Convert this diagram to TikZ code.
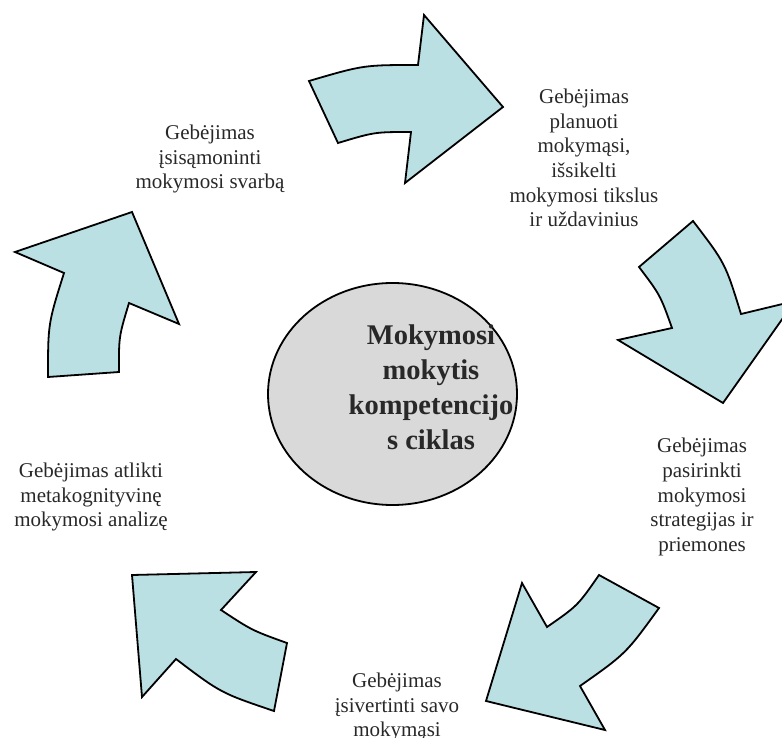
\documentclass[tikz,border=0pt]{standalone}
\usepackage{fontspec}
\setmainfont{Liberation Serif}
\usetikzlibrary{shapes.geometric}
\definecolor{arrowfill}{RGB}{187,224,227}
\definecolor{ovalfill}{RGB}{217,217,217}
\definecolor{labeltext}{RGB}{40,40,40}
\begin{document}
\begin{tikzpicture}[x=1pt,y=-1pt,
  cyclearrow/.style={draw=black, fill=arrowfill, line width=1.8pt, line join=miter},
  hubshape/.style={ellipse, draw=black, fill=ovalfill, line width=1.8pt, minimum width=249pt, minimum height=222pt, inner sep=0pt},
  hubtext/.style={align=center, text=labeltext, font=\fontsize{28.5}{35}\selectfont\bfseries, inner sep=0pt},
  steplabel/.style={align=center, text=labeltext, font=\fontsize{21}{24.6}\selectfont, inner sep=0pt}]
\useasboundingbox (0,0) rectangle (782,738);

% top arrow
\draw[cyclearrow] (309,81) .. controls (363.5,65) .. (418,65) -- (424,15) -- (503,107) -- (405,183) -- (411,132) .. controls (374.5,132) .. (338,143) -- cycle;
% right arrow
\draw[cyclearrow] (693,221) -- (639,267) .. controls (660.2,295) .. (672,328) -- (618,340) -- (723,403) -- (795,301) -- (741,314) .. controls (725.3,263.2) .. (693,221) -- cycle;
% bottom-right arrow
\draw[cyclearrow] (599,575) -- (659,608) .. controls (626,653.6) .. (580,686) -- (605,730) -- (486,701) -- (522,583) -- (547,627) .. controls (577.7,605.7) .. (599,575) -- cycle;
% bottom-left arrow
\draw[cyclearrow] (132,575) -- (256,572) -- (221,610) .. controls (252,630.4) .. (287,643) -- (274,711) .. controls (220.8,693) .. (176,659) -- (142,697) -- cycle;
% left arrow
\draw[cyclearrow] (15,252) -- (132,212) -- (179,324) -- (129,303) .. controls (118.8,336.7) .. (119,372) -- (48,377) .. controls (48,323.8) .. (64,273) -- cycle;

\node[hubshape] (hub) at (392.5,394) {};
\node[hubtext] (hubtitle) at (431,387) {Mokymosi\\mokytis\\kompetencijo\\s ciklas};

\node[steplabel] (plan) at (584,158) {Gebėjimas\\planuoti\\mokymąsi,\\išsikelti\\mokymosi tikslus\\ir uždavinius};
\node[steplabel] (aware) at (210,159) {Gebėjimas\\įsisąmoninti\\mokymosi svarbą};
\node[steplabel] (choose) at (702,497) {Gebėjimas\\pasirinkti\\mokymosi\\strategijas ir\\priemones};
\node[steplabel] (assess) at (397,707) {Gebėjimas\\įsivertinti savo\\mokymąsi};
\node[steplabel] (meta) at (91,497) {Gebėjimas atlikti\\metakognityvinę\\mokymosi analizę};
\end{tikzpicture}
\end{document}
